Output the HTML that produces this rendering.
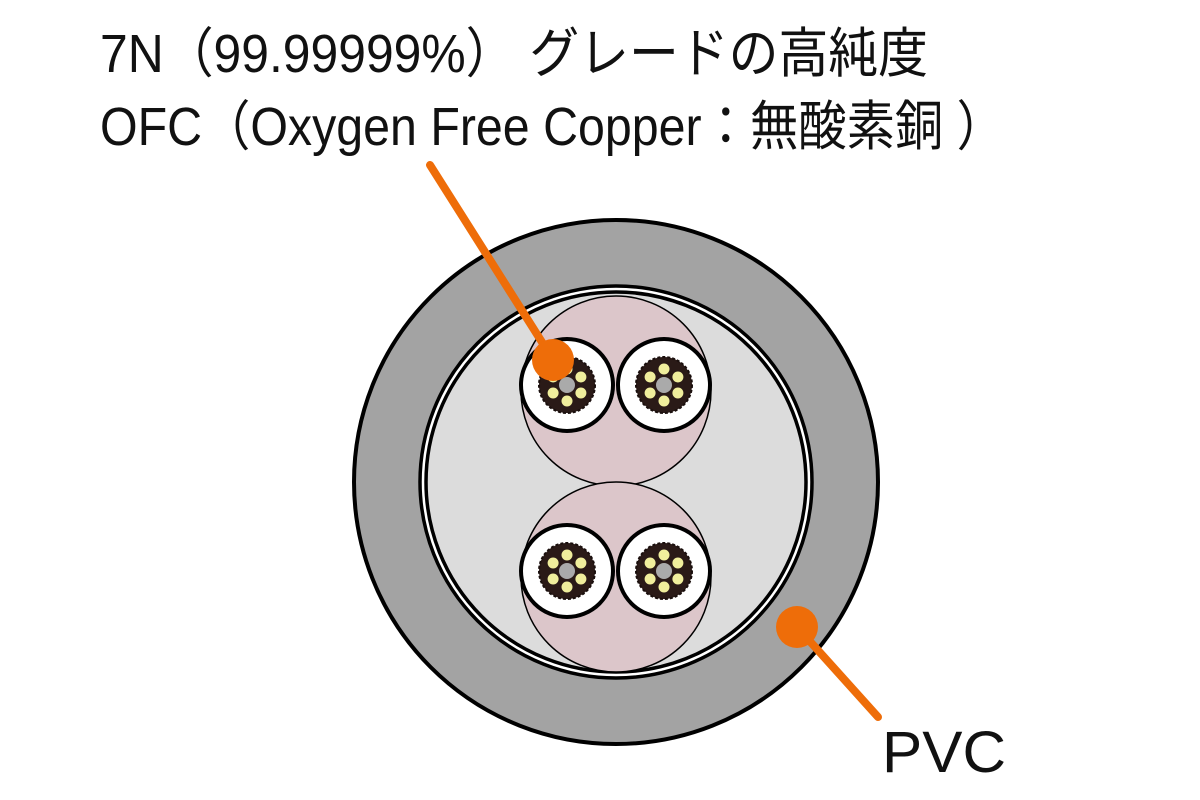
<!DOCTYPE html>
<html><head><meta charset="utf-8"><style>html,body{margin:0;padding:0;background:#fff}svg{display:block}</style></head>
<body>
<svg width="1200" height="800" viewBox="0 0 1200 800" xmlns="http://www.w3.org/2000/svg">
<defs>
<g id="wire">
<circle r="46" fill="#fff" stroke="#000" stroke-width="4"/>
<circle r="28" fill="#2a1a17" stroke="#1a0f0d" stroke-width="2" stroke-dasharray="3 2"/>
<circle r="8" fill="#aaaaaa"/>
<circle cx="0" cy="-16" r="5.5" fill="#f0ee9c"/>
<circle cx="13.9" cy="-8" r="5.5" fill="#f0ee9c"/>
<circle cx="13.9" cy="8" r="5.5" fill="#f0ee9c"/>
<circle cx="0" cy="16" r="5.5" fill="#f0ee9c"/>
<circle cx="-13.9" cy="8" r="5.5" fill="#f0ee9c"/>
<circle cx="-13.9" cy="-8" r="5.5" fill="#f0ee9c"/>
</g>
<g id="pair">
<circle r="95" fill="#dcc6ca" stroke="#000" stroke-width="1.5"/>
<use href="#wire" x="-49" y="-6"/>
<use href="#wire" x="48" y="-6"/>
</g>
</defs>
<circle cx="616" cy="482" r="262" fill="#a3a3a3" stroke="#000" stroke-width="4"/>
<circle cx="616" cy="482" r="196" fill="#fff" stroke="#000" stroke-width="3.5"/>
<circle cx="616" cy="482" r="190" fill="#dcdcdc" stroke="#000" stroke-width="3.5"/>
<use href="#pair" x="616" y="391"/>
<use href="#pair" x="616" y="577"/>
<line x1="430" y1="165" x2="552" y2="358" stroke="#ee6d09" stroke-width="8" stroke-linecap="round"/>
<circle cx="553" cy="360" r="21" fill="#ee6d09"/>
<line x1="797" y1="627" x2="878" y2="717" stroke="#ee6d09" stroke-width="8" stroke-linecap="round"/>
<circle cx="797" cy="627" r="21" fill="#ee6d09"/>
<g font-family="'Liberation Sans','Noto Sans CJK JP',sans-serif" fill="#111">
<text x="100" y="72" font-size="54" textLength="828" lengthAdjust="spacingAndGlyphs">7N（99.99999%） グレードの高純度</text>
<text x="100" y="145" font-size="54" textLength="905" lengthAdjust="spacingAndGlyphs">OFC（Oxygen Free Copper：無酸素銅 ）</text>
<text x="882" y="772" font-size="58" textLength="124" lengthAdjust="spacingAndGlyphs">PVC</text>
</g>
</svg>
</body></html>
